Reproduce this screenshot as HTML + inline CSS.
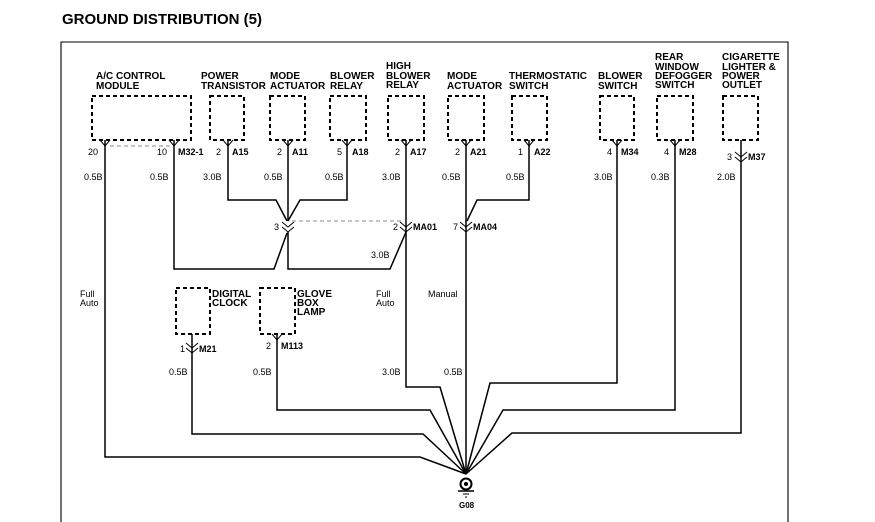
<!DOCTYPE html>
<html><head><meta charset="utf-8"><style>
body{margin:0;background:#fff;width:875px;height:522px;overflow:hidden}
svg{display:block}
text{font-family:"Liberation Sans",Arial,sans-serif;fill:#000}
.h{font-size:10px;font-weight:bold}
.p{font-size:9px}
.pb{font-size:9px;font-weight:bold}
.w{font-size:9px}
</style></head><body>
<svg width="875" height="522" viewBox="0 0 875 522" xmlns="http://www.w3.org/2000/svg">
<text x="62" y="24" style="font-size:15px;font-weight:bold">GROUND DISTRIBUTION (5)</text>
<g stroke="#000" fill="none" stroke-width="1.3">
<polyline points="61,522 61,42 788,42 788,522" stroke-width="1.1"/>
</g>
<g stroke="#000" fill="none" stroke-width="2" stroke-dasharray="4,3">
<rect x="92" y="96" width="99" height="44"/>
<rect x="210" y="96" width="34" height="44"/>
<rect x="270" y="96" width="35" height="44"/>
<rect x="330" y="96" width="36" height="44"/>
<rect x="388" y="96" width="36" height="44"/>
<rect x="448" y="96" width="36" height="44"/>
<rect x="512" y="96" width="35" height="44"/>
<rect x="600" y="96" width="34" height="44"/>
<rect x="657" y="96" width="36" height="44"/>
<rect x="723" y="96" width="35" height="44"/>
<rect x="176" y="288" width="34" height="46"/>
<rect x="260" y="288" width="35" height="46"/>
</g>
<g stroke="#888" fill="none" stroke-width="1" stroke-dasharray="4,3">
<line x1="110" y1="146" x2="170" y2="146"/>
<line x1="292" y1="221" x2="402" y2="221"/>
</g>
<g stroke="#000" fill="none" stroke-width="1.5">
<polyline points="105,140 105,457 420,457 466,474"/>
<polyline points="174,140 174,269 274,269 287,233"/>
<polyline points="228,140 228,200 276,200 287,221"/>
<polyline points="288,140 288,221"/>
<polyline points="347,140 347,200 300,200 288,221"/>
<polyline points="288,232 288,269 390,269 406,232"/>
<polyline points="406,140 406,387 440,387 466,474"/>
<polyline points="466,140 466,474"/>
<polyline points="529,140 529,200 477,200 467,221"/>
<polyline points="617,140 617,383 490,383 466,474"/>
<polyline points="675,140 675,410 503,410 466,474"/>
<polyline points="741,140 741,433 512,433 466,474"/>
<polyline points="192,334 192,434 423,434 466,474"/>
<polyline points="277,334 277,410 430,410 466,474"/>
</g>
<g stroke="#000" fill="none" stroke-width="1">
<polyline points="100,140 105,146 110,140"/>
<polyline points="169,140 174,146 179,140"/>
<polyline points="223,140 228,146 233,140"/>
<polyline points="283,140 288,146 293,140"/>
<polyline points="342,140 347,146 352,140"/>
<polyline points="401,140 406,146 411,140"/>
<polyline points="461,140 466,146 471,140"/>
<polyline points="524,140 529,146 534,140"/>
<polyline points="612,140 617,146 622,140"/>
<polyline points="670,140 675,146 680,140"/>
<polyline points="272,334 277,340 282,334"/>
<polyline points="282,222 288,227 294,222"/><polyline points="282,227 288,232 294,227"/>
<polyline points="400,222 406,227 412,222"/><polyline points="400,227 406,232 412,227"/>
<polyline points="460,222 466,227 472,222"/><polyline points="460,227 466,232 472,227"/>
<polyline points="735,152 741,157 747,152"/><polyline points="735,157 741,162 747,157"/>
<polyline points="186,343 192,348 198,343"/><polyline points="186,348 192,353 198,348"/>
</g>
<circle cx="466" cy="484" r="5.5" fill="none" stroke="#000" stroke-width="2"/>
<circle cx="466" cy="484" r="2" fill="#000"/>
<line x1="458" y1="491" x2="474" y2="491" stroke="#000" stroke-width="1.5"/>
<line x1="463" y1="494" x2="469" y2="494" stroke="#000" stroke-width="1"/>
<line x1="465" y1="497" x2="467" y2="497" stroke="#000" stroke-width="1"/>
<text x="459" y="508" class="pb" style="font-size:8px">G08</text>
<g class="h">
<text x="96" y="79">A/C CONTROL</text><text x="96" y="89">MODULE</text>
<text x="201" y="79">POWER</text><text x="201" y="89">TRANSISTOR</text>
<text x="270" y="79">MODE</text><text x="270" y="89">ACTUATOR</text>
<text x="330" y="79">BLOWER</text><text x="330" y="89">RELAY</text>
<text x="386" y="69">HIGH</text><text x="386" y="79">BLOWER</text><text x="386" y="88">RELAY</text>
<text x="447" y="79">MODE</text><text x="447" y="89">ACTUATOR</text>
<text x="509" y="79">THERMOSTATIC</text><text x="509" y="89">SWITCH</text>
<text x="598" y="79">BLOWER</text><text x="598" y="89">SWITCH</text>
<text x="655" y="60">REAR</text><text x="655" y="70">WINDOW</text><text x="655" y="79">DEFOGGER</text><text x="655" y="88">SWITCH</text>
<text x="722" y="60">CIGARETTE</text><text x="722" y="70">LIGHTER &amp;</text><text x="722" y="79">POWER</text><text x="722" y="88">OUTLET</text>
<text x="212" y="297">DIGITAL</text><text x="212" y="306">CLOCK</text>
<text x="297" y="297">GLOVE</text><text x="297" y="306">BOX</text><text x="297" y="315">LAMP</text>
</g>
<g class="p">
<text x="88" y="155">20</text><text x="157" y="155">10</text>
<text x="216" y="155">2</text><text x="277" y="155">2</text><text x="337" y="155">5</text>
<text x="395" y="155">2</text><text x="455" y="155">2</text><text x="518" y="155">1</text>
<text x="607" y="155">4</text><text x="664" y="155">4</text><text x="727" y="160">3</text>
<text x="274" y="230">3</text><text x="393" y="230">2</text><text x="453" y="230">7</text>
<text x="180" y="352">1</text><text x="266" y="349">2</text>
</g>
<g class="pb">
<text x="178" y="155">M32-1</text><text x="232" y="155">A15</text><text x="292" y="155">A11</text>
<text x="352" y="155">A18</text><text x="410" y="155">A17</text><text x="470" y="155">A21</text>
<text x="534" y="155">A22</text><text x="621" y="155">M34</text><text x="679" y="155">M28</text>
<text x="748" y="160">M37</text><text x="413" y="230">MA01</text><text x="473" y="230">MA04</text>
<text x="199" y="352">M21</text><text x="281" y="349">M113</text>
</g>
<g class="w">
<text x="84" y="180">0.5B</text><text x="150" y="180">0.5B</text><text x="203" y="180">3.0B</text>
<text x="264" y="180">0.5B</text><text x="325" y="180">0.5B</text><text x="382" y="180">3.0B</text>
<text x="442" y="180">0.5B</text><text x="506" y="180">0.5B</text><text x="594" y="180">3.0B</text>
<text x="651" y="180">0.3B</text><text x="717" y="180">2.0B</text>
<text x="371" y="258">3.0B</text>
<text x="80" y="297">Full</text><text x="80" y="306">Auto</text>
<text x="376" y="297">Full</text><text x="376" y="306">Auto</text>
<text x="428" y="297">Manual</text>
<text x="169" y="375">0.5B</text><text x="253" y="375">0.5B</text>
<text x="382" y="375">3.0B</text><text x="444" y="375">0.5B</text>
</g>
</svg>
</body></html>
